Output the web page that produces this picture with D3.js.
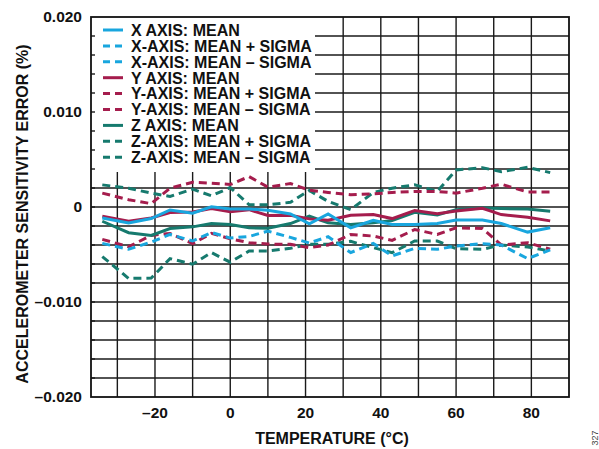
<!DOCTYPE html>
<html>
<head>
<meta charset="utf-8">
<script src="https://cdn.jsdelivr.net/npm/d3@7"></script>
<style>
  body { margin: 0; background: #fff; }
  svg { display: block; }
  text { font-family: "Liberation Sans", Arial, sans-serif; font-weight: bold; fill: #111; }
</style>
</head>
<body>
<svg id="chart" width="599" height="449"></svg>
<script>
// temperatures (°C) of the measurement points
const temps = [-34, -27, -21, -16, -10, -5, 0, 5, 10, 16, 21, 26, 32, 38, 43, 49, 55, 60, 67, 72, 79, 85];

// sensitivity error (%) per axis
const xMean = [-0.00115, -0.00167, -0.00122, -0.00031, -0.00066, 0.00003, -0.00021, -0.00021, -0.00035, -0.00073, -0.00177,
  -0.00073, -0.00219, -0.00139, -0.00184, -0.00184, -0.00174, -0.00136, -0.00136, -0.00174, -0.00264, -0.00219];
const xMinusSigma = [-0.00383, -0.00445, -0.00369, -0.00289, -0.00358, -0.00268, -0.00327, -0.0031, -0.00254, -0.0032, -0.00379,
  -0.00313, -0.0048, -0.00383, -0.00515, -0.00435, -0.00445, -0.00411, -0.00386, -0.004, -0.00543, -0.00452];

const yMean = [-0.00097, -0.0015, -0.00115, -0.00059, -0.00052, -0.00017, -0.00049, -0.00028, -0.0009, -0.00087, -0.00125,
  -0.00139, -0.00087, -0.0008, -0.00122, -0.00038, -0.0007, -0.00042, -0.00014, -0.0008, -0.00108, -0.00146];
const yPlusSigma = [0.00146, 0.00077, 0.00035, 0.00198, 0.00261, 0.00251, 0.00237, 0.0032, 0.00209, 0.00247, 0.00177,
  0.00153, 0.00129, 0.00139, 0.00153, 0.00164, 0.00164, 0.00146, 0.00198, 0.0024, 0.00157, 0.00157];
const yMinusSigma = [-0.00341, -0.00418, -0.00299, -0.00278, -0.00386, -0.00278, -0.00334, -0.00376, -0.0039, -0.00393, -0.00428,
  -0.004, -0.00289, -0.00306, -0.00351, -0.00237, -0.00289, -0.00219, -0.00226, -0.004, -0.00376, -0.00445];

const zMean = [-0.0015, -0.00271, -0.00299, -0.00226, -0.00209, -0.00174, -0.00184, -0.00219, -0.00223, -0.00174, -0.00097,
  -0.00167, -0.00184, -0.00167, -0.00143, -0.00056, -0.00084, -0.00028, -0.0001, -0.00017, -0.00021, -0.00045];
const zPlusSigma = [0.00233, 0.00198, 0.00146, 0.00111, 0.00188, 0.00118, 0.00205, 0.00024, 0.00024, 0.00049, 0.00174,
  0.00059, -0.00028, 0.00153, 0.00198, 0.00233, 0.00164, 0.0039, 0.00414, 0.00372, 0.00418, 0.00362];
const zMinusSigma = [-0.00522, -0.00752, -0.00748, -0.00543, -0.00602, -0.0048, -0.00581, -0.00463, -0.00463, -0.00435, -0.00393,
  -0.00393, -0.00362, -0.00428, -0.0048, -0.00358, -0.00358, -0.00438, -0.00445, -0.004, -0.00421, -0.00463];

const xTicks = [-20, 0, 20, 40, 60, 80];
const yTicks = [0.02, 0.01, 0, -0.01, -0.02];
const legendLabels = ["X AXIS: MEAN", "X-AXIS: MEAN + SIGMA", "X-AXIS: MEAN \u2013 SIGMA",
  "Y AXIS: MEAN", "Y-AXIS: MEAN + SIGMA", "Y-AXIS: MEAN \u2013 SIGMA",
  "Z AXIS: MEAN", "Z-AXIS: MEAN + SIGMA", "Z-AXIS: MEAN \u2013 SIGMA"];

const blue = "#19a6de", maroon = "#a51d4d", teal = "#167a6e";

// drawing order: Z under Y under X
const series = [
  {values: zMinusSigma, color: teal, dashed: true},
  {values: zPlusSigma, color: teal, dashed: true},
  {values: yMinusSigma, color: maroon, dashed: true},
  {values: yPlusSigma, color: maroon, dashed: true},
  {values: xMinusSigma, color: blue, dashed: true},
  {values: zMean, color: teal, dashed: false},
  {values: yMean, color: maroon, dashed: false},
  {values: xMean, color: blue, dashed: false}
];

const legendColors = [blue, blue, blue, maroon, maroon, maroon, teal, teal, teal];

const plotLeft = 91, plotRight = 569, plotTop = 17, plotBottom = 397;

const svg = d3.select("#chart");

const x = d3.scaleLinear().domain([-37, 90]).range([plotLeft, plotRight]);
const y = d3.scaleLinear().domain([-0.02, 0.02]).range([plotBottom, plotTop]);

const fmtY = function (d) {
  if (d === 0) return "0";
  return (d < 0 ? "\u2013" : "") + Math.abs(d).toFixed(3);
};
const fmtX = function (d) {
  return (d < 0 ? "\u2013" : "") + Math.abs(d);
};

// grid
const grid = svg.append("g").attr("stroke", "#1a1a1a").attr("stroke-width", 1.4);
grid.selectAll("line.v")
  .data(d3.range(-30, 81, 10))
  .enter()
  .append("line")
  .attr("class", "v")
  .attr("x1", function (d) { return x(d); })
  .attr("x2", function (d) { return x(d); })
  .attr("y1", plotTop)
  .attr("y2", plotBottom);
grid.selectAll("line.h")
  .data(d3.range(-18, 19, 2).map(function (k) { return k / 1000; }))
  .enter()
  .append("line")
  .attr("class", "h")
  .attr("x1", plotLeft)
  .attr("x2", plotRight)
  .attr("y1", function (d) { return y(d); })
  .attr("y2", function (d) { return y(d); });

// data lines
svg.append("clipPath").attr("id", "clip")
  .append("rect").attr("x", plotLeft).attr("y", plotTop)
  .attr("width", plotRight - plotLeft).attr("height", plotBottom - plotTop);

const line = d3.line()
  .x(function (d, i) { return x(temps[i]); })
  .y(function (d) { return y(d); });

svg.append("g").attr("clip-path", "url(#clip)")
  .selectAll("path")
  .data(series)
  .enter()
  .append("path")
  .attr("d", function (d) { return line(d.values); })
  .attr("fill", "none")
  .attr("stroke", function (d) { return d.color; })
  .attr("stroke-width", 3)
  .attr("stroke-dasharray", function (d) { return d.dashed ? "8,5" : null; });

// legend box covers the grid
svg.append("rect")
  .attr("x", plotLeft).attr("y", plotTop)
  .attr("width", 224).attr("height", 155)
  .attr("fill", "#fff");

// short inner ticks on the left edge
svg.append("g").selectAll("line")
  .data(d3.range(-18, 19, 2).map(function (k) { return k / 1000; }))
  .enter()
  .append("line")
  .attr("x1", plotLeft).attr("x2", plotLeft + 4)
  .attr("y1", function (d) { return y(d); })
  .attr("y2", function (d) { return y(d); })
  .attr("stroke", "#1a1a1a").attr("stroke-width", 1.4);

const legend = svg.append("g").selectAll("g")
  .data(legendLabels)
  .enter()
  .append("g")
  .attr("transform", function (d, i) { return "translate(103," + (30 + i * 15.9) + ")"; });
legend.append("line")
  .attr("x1", 0).attr("x2", 20).attr("y1", 0).attr("y2", 0)
  .attr("stroke", function (d, i) { return legendColors[i]; })
  .attr("stroke-width", 3)
  .attr("stroke-dasharray", function (d, i) { return i % 3 === 0 ? null : "7,5"; });
legend.append("text")
  .attr("x", 28).attr("y", 5.8)
  .attr("font-size", "16px")
  .text(function (d) { return d; });

// frame
svg.append("rect")
  .attr("x", plotLeft).attr("y", plotTop)
  .attr("width", plotRight - plotLeft).attr("height", plotBottom - plotTop)
  .attr("fill", "none").attr("stroke", "#111").attr("stroke-width", 1.8);

// tick labels
svg.append("g").selectAll("text")
  .data(yTicks)
  .enter()
  .append("text")
  .attr("x", 82)
  .attr("y", function (d) { return y(d) + 5; })
  .attr("text-anchor", "end")
  .attr("font-size", "15.5px")
  .text(fmtY);

svg.append("g").selectAll("text")
  .data(xTicks)
  .enter()
  .append("text")
  .attr("x", function (d) { return x(d); })
  .attr("y", 418)
  .attr("text-anchor", "middle")
  .attr("font-size", "15.5px")
  .text(fmtX);

// axis titles
svg.append("text")
  .attr("x", 332).attr("y", 444)
  .attr("text-anchor", "middle")
  .attr("font-size", "16px")
  .text("TEMPERATURE (\u00b0C)");

svg.append("text")
  .attr("transform", "translate(28,214) rotate(-90)")
  .attr("text-anchor", "middle")
  .attr("font-size", "16px")
  .text("ACCELEROMETER SENSITIVITY ERROR (%)");

svg.append("text")
  .attr("transform", "translate(598,438) rotate(-90)")
  .attr("text-anchor", "middle")
  .attr("font-size", "9px")
  .style("font-weight", "normal")
  .style("fill", "#444")
  .text("327");
</script>
</body>
</html>
